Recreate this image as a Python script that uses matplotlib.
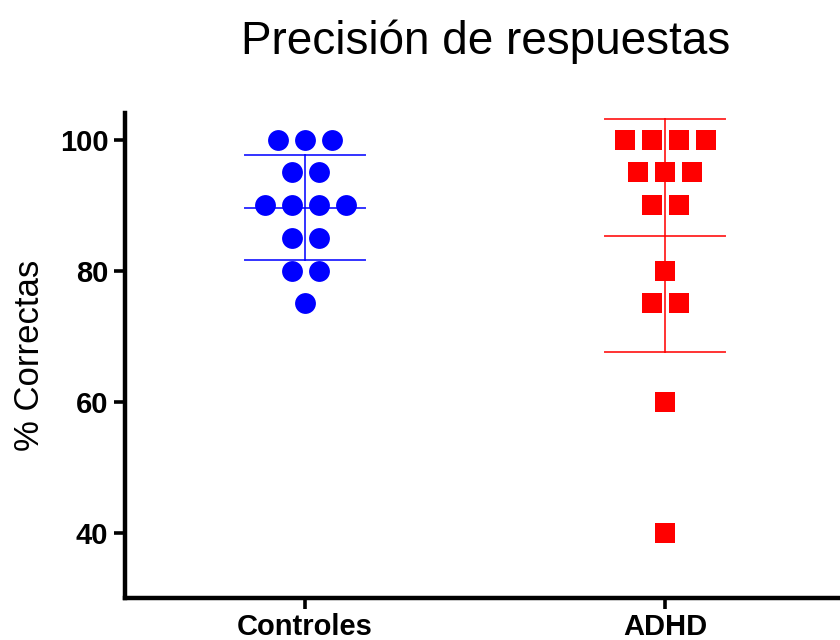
import numpy as np
import matplotlib.pyplot as plt

plt.rcParams['font.family'] = ['Liberation Sans', 'DejaVu Sans']

groups = ["Controles", "ADHD"]
controles = [100, 100, 100, 95, 95, 90, 90, 90, 90, 85, 85, 80, 80, 75]
adhd = [100, 100, 100, 100, 95, 95, 95, 90, 90, 80, 75, 75, 60, 40]
colors = ["#0000ff", "#ff0000"]
markers = ["o", "s"]
msizes = [15, 14.4]

fig = plt.figure(figsize=(8.4, 6.4), dpi=100)
ax = fig.add_axes([0.1488, 0.0656, 0.8512, 0.758])

spacing = 0.075   # horizontal gap between points sharing a value
cap = 0.167       # half width of mean / SD lines

for i, (vals, c, m, ms) in enumerate(zip([controles, adhd], colors, markers, msizes)):
    vals = np.array(vals, dtype=float)
    xs = []
    ys = []
    for v in sorted(set(vals), reverse=True):
        n = int(np.sum(vals == v))
        offs = (np.arange(n) - (n - 1) / 2) * spacing
        xs.extend(i + offs)
        ys.extend([v] * n)
    ax.plot(xs, ys, linestyle="none", marker=m, ms=ms, color=c,
            markeredgewidth=0, zorder=2)
    mean = vals.mean()
    sd = vals.std(ddof=1)
    for y in (mean - sd, mean, mean + sd):
        ax.plot([i - cap, i + cap], [y, y], color=c, lw=1.4, alpha=0.8, zorder=3)
    ax.plot([i, i], [mean - sd, mean + sd], color=c, lw=1.4, alpha=0.8, zorder=3)

ax.set_xlim(-0.5, 1.486)
ax.set_ylim(30, 104.1)
ax.set_yticks([40, 60, 80, 100])
ax.set_xticks([0, 1])
ax.set_xticklabels(groups)

for s in ("top", "right"):
    ax.spines[s].set_visible(False)
for s in ("left", "bottom"):
    ax.spines[s].set_linewidth(3.2)

ax.tick_params(axis="both", direction="out", length=8, width=2.6,
               labelsize=21, pad=4)
ax.tick_params(axis="x", pad=3)
for lab in ax.get_xticklabels() + ax.get_yticklabels():
    lab.set_fontweight("bold")

ax.set_ylabel("% Correctas", fontsize=25)
ax.yaxis.set_label_coords(-0.11, 0.5)
fig.text(0.578, 0.935, "Precisión de respuestas", fontsize=33,
         ha="center", va="center")

fig.savefig("out.png", dpi=100)
